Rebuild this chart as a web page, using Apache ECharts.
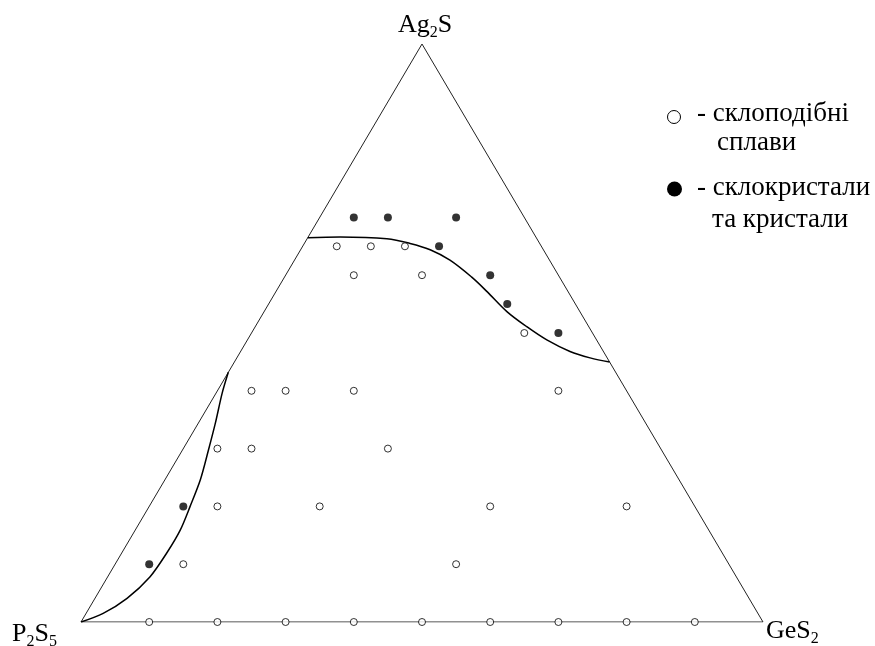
<!DOCTYPE html>
<html><head><meta charset="utf-8">
<script src="https://cdn.jsdelivr.net/npm/echarts@6/dist/echarts.min.js"></script>
<style>html,body{margin:0;padding:0;background:#fff}#c{width:875px;height:646px}</style>
</head><body><div id="c"></div>
<script>
// Compositions in mol %: Ag2S and GeS2 (P2S5 = 100 - Ag2S - GeS2)
const vertexAg2S = [0, 0, 100, 0];
const vertexGeS2 = [0, 100, 0, 0];
const glassAg2S = [0,0,0,0,0,0,0,0,0, 10,10, 20,20,20,20, 30,30,30, 40,40,40,40, 50, 60,60, 65,65,65];
const glassGeS2 = [10,20,30,40,50,60,70,80,90, 10,50, 10,25,50,70, 5,10,30, 5,10,20,50, 40, 10,20, 5,10,15];
const crystAg2S = [10,20,50,55,60,65,70,70,70];
const crystGeS2 = [5,5,45,35,30,20,5,10,20];
const upperAg2S = [66.5,66.6,66.3,65.5,64.4,62.6,59.7,57.2,53.7,51.1,48.8,46.8,45.7,45.0];
const upperGeS2 = [0,4.7,11.7,15.5,19.0,22.8,27.4,30.9,35.6,39.8,43.9,48.3,51.8,55.0];
const lowerAg2S = [0,1.5,4.1,7.8,11.9,15.9,20.0,24.6,29.8,34.4,39.6,43.2];
const lowerGeS2 = [0,2.5,4.7,6.2,6.6,6.6,6.0,5.2,3.8,2.5,0.9,0];
const legendLabels = ['- склоподібні', 'сплави', '- склокристали', 'та кристали'];

function tern(aArr, gArr) {
  return aArr.map((a, i) => [gArr[i] + a / 2, a]);
}
const FONT = '"Liberation Serif","Times New Roman",serif';
const chart = echarts.init(document.getElementById('c'));
const richSub = {
  m: {fontFamily: FONT, fontSize: 26, height: 26, verticalAlign: 'top', color: '#000'},
  s: {fontFamily: FONT, fontSize: 16, height: 16, padding: [13, 0, 0, 0], verticalAlign: 'top', color: '#000'}
};
function label(text, x, y) {
  return {type: 'text', left: x, top: y, style: {text: text, rich: richSub, fill: '#000'}};
}
const LF = '27px ' + FONT;
chart.setOption({
  animation: false,
  backgroundColor: '#fff',
  grid: {left: 81, top: 44, width: 682, height: 578},
  xAxis: {type: 'value', min: 0, max: 100, show: false},
  yAxis: {type: 'value', min: 0, max: 100, show: false},
  series: [
    {type: 'line', data: tern(vertexAg2S, vertexGeS2), symbol: 'none',
     lineStyle: {color: '#222', width: 1}, z: 1},
    {type: 'line', data: tern(upperAg2S, upperGeS2), symbol: 'none', smooth: 0.35,
     lineStyle: {color: '#000', width: 1.5}, z: 2},
    {type: 'line', data: tern(lowerAg2S, lowerGeS2), symbol: 'none', smooth: 0.3,
     lineStyle: {color: '#000', width: 1.5}, z: 2},
    {type: 'scatter', data: tern(glassAg2S, glassGeS2), symbol: 'circle', symbolSize: 7,
     itemStyle: {color: '#fff', borderColor: '#000', borderWidth: 1}, z: 3},
    {type: 'scatter', data: tern(crystAg2S, crystGeS2), symbol: 'circle', symbolSize: 8,
     itemStyle: {color: '#000'}, z: 3}
  ],
  graphic: [
    label('{m|Ag}{s|2}{m|S}', 398, 12),
    label('{m|P}{s|2}{m|S}{s|5}', 12, 621),
    label('{m|GeS}{s|2}', 766, 618),
    {type: 'circle', shape: {cx: 674, cy: 117, r: 6.5}, style: {fill: '#fff', stroke: '#000', lineWidth: 1}},
    {type: 'circle', shape: {cx: 674.5, cy: 189, r: 7.5}, style: {fill: '#000'}},
    {type: 'text', x: 697, y: 114, style: {text: legendLabels[0], font: LF, fill: '#000', verticalAlign: 'middle'}},
    {type: 'text', x: 717, y: 143, style: {text: legendLabels[1], font: LF, fill: '#000', verticalAlign: 'middle'}},
    {type: 'text', x: 697, y: 188, style: {text: legendLabels[2], font: LF, fill: '#000', verticalAlign: 'middle'}},
    {type: 'text', x: 712, y: 219.5, style: {text: legendLabels[3], font: LF, fill: '#000', verticalAlign: 'middle'}}
  ]
});
</script></body></html>
